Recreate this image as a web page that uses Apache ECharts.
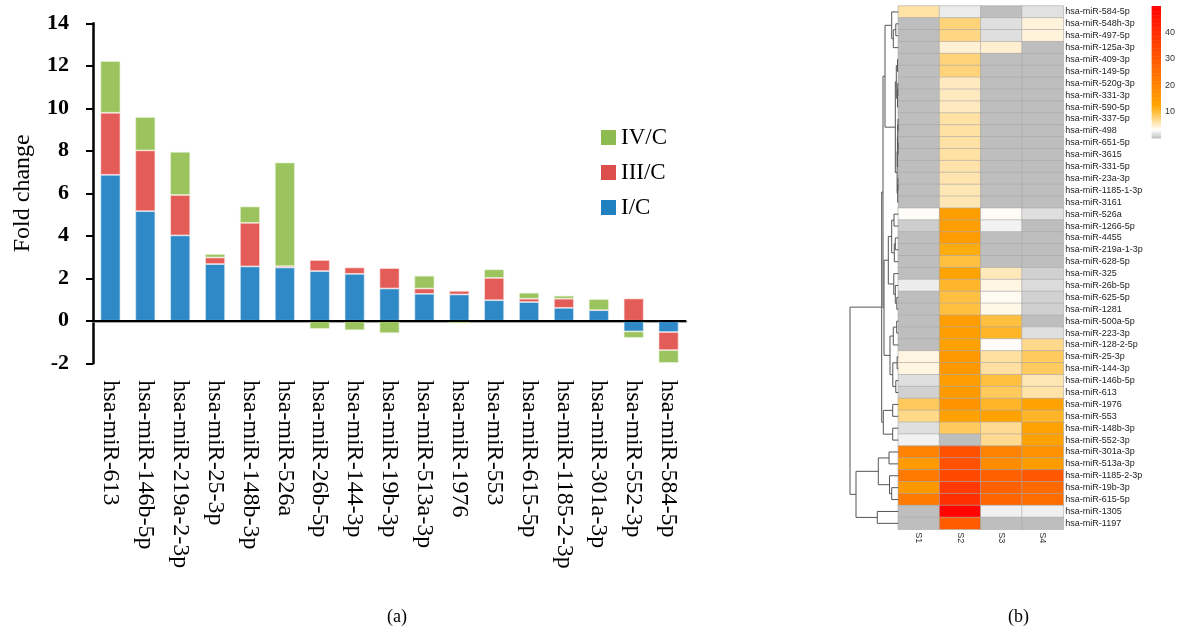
<!DOCTYPE html>
<html>
<head>
<meta charset="utf-8">
<script src="https://cdn.jsdelivr.net/npm/echarts@6/dist/echarts.min.js"></script>
<style>html,body{margin:0;padding:0;background:#fff;}#c{width:1178px;height:632px;}</style>
</head>
<body>
<div id="c"></div>
<script>
// ---------- (a) stacked bar data ----------
var barCategories = ['hsa-miR-613','hsa-miR-146b-5p','hsa-miR-219a-2-3p','hsa-miR-25-3p','hsa-miR-148b-3p','hsa-miR-526a','hsa-miR-26b-5p','hsa-miR-144-3p','hsa-miR-19b-3p','hsa-miR-513a-3p','hsa-miR-1976','hsa-miR-553','hsa-miR-615-5p','hsa-miR-1185-2-3p','hsa-miR-301a-3p','hsa-miR-552-3p','hsa-miR-584-5p'];
var seriesIC   = [6.87, 5.16, 4.02, 2.67, 2.56, 2.51, 2.34, 2.21, 1.52, 1.27, 1.24, 0.97, 0.88, 0.61, 0.50, -0.50, -0.53];
var seriesIIIC = [2.92, 2.86, 1.90, 0.31, 2.05, 0.06, 0.52, 0.30, 0.96, 0.25, 0.17, 1.05, 0.16, 0.43, 0.00, 1.05, -0.85];
var seriesIVC  = [2.43, 1.57, 2.03, 0.16, 0.77, 4.88, -0.38, -0.44, -0.58, 0.60, -0.12, 0.40, 0.28, 0.14, 0.52, -0.30, -0.60];
var yTicks = {min: -2, max: 14, interval: 2};

// ---------- (b) heatmap data ----------
var heatRows = ['hsa-miR-584-5p','hsa-miR-548h-3p','hsa-miR-497-5p','hsa-miR-125a-3p','hsa-miR-409-3p','hsa-miR-149-5p','hsa-miR-520g-3p','hsa-miR-331-3p','hsa-miR-590-5p','hsa-miR-337-5p','hsa-miR-498','hsa-miR-651-5p','hsa-miR-3615','hsa-miR-331-5p','hsa-miR-23a-3p','hsa-miR-1185-1-3p','hsa-miR-3161','hsa-miR-526a','hsa-miR-1266-5p','hsa-miR-4455','hsa-miR-219a-1-3p','hsa-miR-628-5p','hsa-miR-325','hsa-miR-26b-5p','hsa-miR-625-5p','hsa-miR-1281','hsa-miR-500a-5p','hsa-miR-223-3p','hsa-miR-128-2-5p','hsa-miR-25-3p','hsa-miR-144-3p','hsa-miR-146b-5p','hsa-miR-613','hsa-miR-1976','hsa-miR-553','hsa-miR-148b-3p','hsa-miR-552-3p','hsa-miR-301a-3p','hsa-miR-513a-3p','hsa-miR-1185-2-3p','hsa-miR-19b-3p','hsa-miR-615-5p','hsa-miR-1305','hsa-miR-1197'];
var heatCols = ['S1','S2','S3','S4'];
var valS1 = [6.3,0,0,0,0,0,0,0,0,0,0,0,0,0,0,0,0, 3.3,0.7,0,0,0,0,2.2,0,0,0,0,0, 4.2,4.2,1.6,0.9,8.8,7.3,1.6,2.5, 20.5,14.8,22.3,15.5,22.3,0,0];
var valS2 = [2.2,7.8,7.5,4.6,7.8,7.8,5.4,5.4,5.4,6.4,6.4,6.4,6.4,6.2,6.0,5.8,5.8, 14,14,14.5,11.8,9.7,13,10.7,9.8,9.8,14,14,13.3, 15.5,15.5,14,14.7,16.4,13.3,8.8,0, 31.5,31.5,33.5,37,39,49,29];
var valS3 = [0,1.6,1.6,4.8,0,0,0,0,0,0,0,0,0,0,0,0,0, 3.4,2.5,0,0,0,5.6,4.1,3.6,4.0,9.8,10.8,3.3, 6.5,6.5,9.8,8.8,10.8,13.1,7,7, 20.5,18,28,28,27,2.4,0];
var valS4 = [1.7,4.4,4.4,0,0,0,0,0,0,0,0,0,0,0,0,0,0, 1.6,0,0,0,0,0.9,1.4,0.9,0.8,0,1.6,7.2, 8.7,8.7,5.9,6.3,13.3,10.8,13.3,13.3, 16.8,14.2,30,26,25.5,2.4,0];
var colorScaleTicks = [10, 20, 30, 40];
var colorScaleRange = [0, 50];
var colorStops = ['#bebebe','#ffffff','#ffe2a8','#ffc34a','#ffa500','#ff9700','#ff8900','#ff7c00','#ff6e00','#ff6000','#ff5200','#ff4500','#ff3700','#ff2900','#ff1c00','#ff0e00','#ff0000'];

// dendrogram linkage: [left, right, height]; ids < 44 are rows, ids >= 44 are earlier merges (44 + k)
var linkage = [
 [1,2,2.5],[44,3,5],[0,45,6.6],[4,5,0.8],[6,7,0.5],[48,8,0.8],[47,49,2],[9,10,0.3],[11,12,0.3],[51,52,0.6],
 [53,13,0.9],[14,15,0.4],[55,16,0.6],[54,56,1.2],[50,57,3],[46,58,13.3],[17,18,4.3],[19,20,3],[61,21,4],[60,62,6.6],
 [24,25,1.5],[23,64,3],[22,65,4.5],[63,66,10],[26,27,1.6],[68,28,5],[29,30,1.2],[31,32,2.5],[70,71,5.5],[69,72,8.3],
 [67,73,14.3],[59,74,15.3],[33,34,5.6],[35,36,5.6],[76,77,15],[75,78,16.6],[37,38,9.3],[40,41,6.6],[39,81,8.8],[80,82,20],
 [42,43,21],[83,84,42.3],[79,85,48.3]
];

// ---------- build ----------
var nLeaf = heatRows.length;
var nodeY = [], nodeH = [];
for (var i = 0; i < nLeaf; i++) { nodeY.push(i); nodeH.push(0); }
linkage.forEach(function (m) { nodeY.push((nodeY[m[0]] + nodeY[m[1]]) / 2); nodeH.push(m[2]); });
var dendroData = linkage.map(function (m, k) { return [m[2], nodeY[nLeaf + k], k]; });

var sampleVals = [valS1, valS2, valS3, valS4];
var heatData = [];
sampleVals.forEach(function (arr, c) { arr.forEach(function (v, r) { heatData.push([c, r, v]); }); });

var barData = [];
for (var v = colorScaleRange[0]; v < colorScaleRange[1]; v += 0.5) barData.push([0.5, v, v + 0.25]);

var serif = 'Liberation Serif';
var sans = 'Liberation Sans';
var chart = echarts.init(document.getElementById('c'), null, {renderer: 'canvas'});
chart.setOption({
  animation: false,
  backgroundColor: '#ffffff',
  title: [
    {text: '(a)', left: 382, top: 603, textStyle: {fontFamily: serif, fontWeight: 'normal', fontSize: 18, color: '#000'}},
    {text: '(b)', left: 1003, top: 603, textStyle: {fontFamily: serif, fontWeight: 'normal', fontSize: 18, color: '#000'}}
  ],
  legend: {
    orient: 'vertical', left: 596, top: 121, itemWidth: 15, itemHeight: 15, itemGap: 12, icon: 'rect', selectedMode: false,
    textStyle: {fontFamily: serif, fontSize: 23, color: '#000'},
    data: [
      {name: 'IV/C', itemStyle: {color: '#8dbb4f', borderWidth: 0}},
      {name: 'III/C', itemStyle: {color: '#dc4e4b', borderWidth: 0}},
      {name: 'I/C', itemStyle: {color: '#2180c0', borderWidth: 0}}
    ]
  },
  visualMap: {
    show: false, type: 'continuous', min: colorScaleRange[0], max: colorScaleRange[1], dimension: 2,
    seriesIndex: [3, 5], inRange: {color: colorStops}
  },
  grid: [
    {left: 93, top: 23.3, width: 593, height: 340},
    {left: 898.3, top: 6, width: 165, height: 523.3},
    {left: 849, top: 6, width: 49.3, height: 523.3},
    {left: 1151.7, top: 6, width: 10, height: 132}
  ],
  xAxis: [
    {type: 'category', gridIndex: 0, data: barCategories,
      axisLine: {lineStyle: {color: '#8c8c8c', width: 2.5}}, axisTick: {show: false},
      axisLabel: {interval: 0, rotate: -90, margin: 17, fontFamily: serif, fontSize: 24, color: '#000'}},
    {type: 'category', gridIndex: 1, data: heatCols, position: 'bottom',
      axisLine: {show: false}, axisTick: {show: false},
      axisLabel: {rotate: -90, margin: 3, fontFamily: sans, fontSize: 9, color: '#333'}},
    {type: 'value', gridIndex: 2, min: 0, max: 49.3, inverse: true, show: false},
    {type: 'value', gridIndex: 3, min: 0, max: 1, show: false}
  ],
  yAxis: [
    {type: 'value', gridIndex: 0, min: yTicks.min, max: yTicks.max, interval: yTicks.interval,
      name: 'Fold change', nameLocation: 'middle', nameGap: 58, nameRotate: 90,
      nameTextStyle: {fontFamily: serif, fontSize: 24, color: '#000'},
      axisLine: {show: true, lineStyle: {color: '#000', width: 2.5}},
      axisTick: {show: true, length: 7, lineStyle: {color: '#000', width: 2}},
      axisLabel: {margin: 24, fontFamily: serif, fontWeight: 'bold', fontSize: 22, color: '#000'},
      splitLine: {show: false}},
    {type: 'category', gridIndex: 1, data: heatRows, inverse: true, position: 'right',
      axisLine: {show: false}, axisTick: {show: false},
      axisLabel: {interval: 0, margin: 2, fontFamily: sans, fontSize: 9, color: '#222'}},
    {type: 'value', gridIndex: 2, min: -0.5, max: nLeaf - 0.5, inverse: true, show: false},
    {type: 'value', gridIndex: 3, min: colorScaleRange[0], max: colorScaleRange[1], interval: 10, position: 'right',
      axisLine: {show: false}, axisTick: {show: false}, splitLine: {show: false},
      axisLabel: {margin: 4, fontFamily: sans, fontSize: 9, color: '#333',
        formatter: function (v) { return colorScaleTicks.indexOf(v) >= 0 ? String(v) : ''; }}}
  ],
  series: [
    {name: 'I/C', type: 'bar', stack: 'fc', xAxisIndex: 0, yAxisIndex: 0, barWidth: 20, data: seriesIC,
      itemStyle: {color: '#2e89c6', borderColor: 'rgba(220,235,245,0.8)', borderWidth: 0.8},
      markLine: {silent: true, symbol: 'none', label: {show: false}, lineStyle: {color: '#000', width: 2, type: 'solid'}, data: [{yAxis: 0}]}},
    {name: 'III/C', type: 'bar', stack: 'fc', xAxisIndex: 0, yAxisIndex: 0, barWidth: 20, data: seriesIIIC,
      itemStyle: {color: '#e35c57', borderColor: 'rgba(250,225,225,0.8)', borderWidth: 0.8}},
    {name: 'IV/C', type: 'bar', stack: 'fc', xAxisIndex: 0, yAxisIndex: 0, barWidth: 20, data: seriesIVC,
      itemStyle: {color: '#9bc45e', borderColor: 'rgba(230,242,215,0.8)', borderWidth: 0.8}},
    {name: 'heat', type: 'heatmap', xAxisIndex: 1, yAxisIndex: 1, data: heatData,
      itemStyle: {borderColor: '#a8a8a8', borderWidth: 0.6}, emphasis: {disabled: true}},
    {name: 'dendro', type: 'custom', xAxisIndex: 2, yAxisIndex: 2, data: dendroData, silent: true,
      renderItem: function (params, api) {
        var k = api.value(2);
        var m = linkage[k];
        var h = m[2];
        var yl = nodeY[m[0]], yr = nodeY[m[1]];
        var hl = nodeH[m[0]], hr = nodeH[m[1]];
        var pts = [api.coord([hl, yl]), api.coord([h, yl]), api.coord([h, yr]), api.coord([hr, yr])];
        return {type: 'polyline', shape: {points: pts}, style: {stroke: '#555', fill: null, lineWidth: 1}};
      }},
    {name: 'scale', type: 'custom', xAxisIndex: 3, yAxisIndex: 3, data: barData, silent: true,
      renderItem: function (params, api) {
        var v = api.value(1);
        var p0 = api.coord([0, v + 0.5]);
        var p1 = api.coord([1, v]);
        return {type: 'rect', shape: {x: p0[0], y: p0[1], width: p1[0] - p0[0], height: p1[1] - p0[1] + 0.5},
          style: {fill: api.visual('color')}};
      }}
  ]
});
</script>
</body>
</html>
